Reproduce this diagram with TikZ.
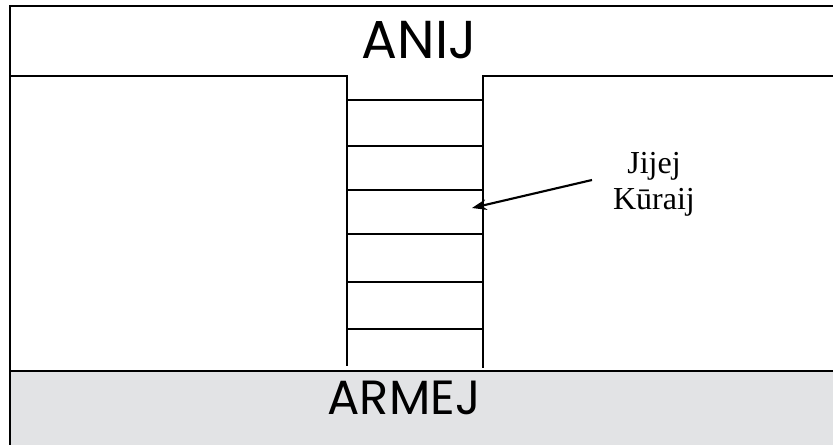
\documentclass[tikz,border=0pt]{standalone}
\usepackage{fontspec}
\usepackage{xcolor}
\usetikzlibrary{arrows.meta, positioning}
\newfontfamily\geofont{Poppins}
\newfontfamily\serfont{Liberation Serif}
\definecolor{landgray}{RGB}{226,227,229}

\begin{document}
\begin{tikzpicture}[
    x=0.75pt, y=-0.75pt,
    shore/.style={line width=1.8pt, line join=miter},
    rung/.style={line width=1.4pt},
    area/.style={inner sep=0pt, font=\geofont\fontsize{40}{42}\selectfont},
    lbl/.style={inner sep=0pt, align=center, font=\serfont\fontsize{24}{27}\selectfont},
    arr/.style={-{Stealth[length=11pt, width=8pt]}, line width=1.6pt}
]
\useasboundingbox (0,0) rectangle (833,445);
\clip (0,0) rectangle (833,445);

% sea floor band
\fill[landgray] (10,371) rectangle (850,460);
\draw[shore] (10,371) -- (850,371);

% outer frame
\draw[shore] (850,6) -- (10,6) -- (10,460);

% land on both sides of the pier
\draw[shore] (10,76) -- (347,76) -- (347,366);
\draw[shore] (483,368) -- (483,76) -- (850,76);

% pier planks
\foreach \y in {100,146,190,234,282,329}
    \draw[rung] (347,\y) -- (483,\y);

\node[area, anchor=base] (anij) at (419,59) {ANIJ};
\node[area, anchor=base, font=\geofont\fontsize{36}{40}\selectfont] (armej) at (404,415) {ARMEJ};

\node[lbl] (pier) at (654,184) {Jijej\\Kūraij};
\coordinate (pstart) at (592,180);
\coordinate (ptip) at (472,208);
\draw[arr] (pstart) -- (ptip);
\end{tikzpicture}
\end{document}
